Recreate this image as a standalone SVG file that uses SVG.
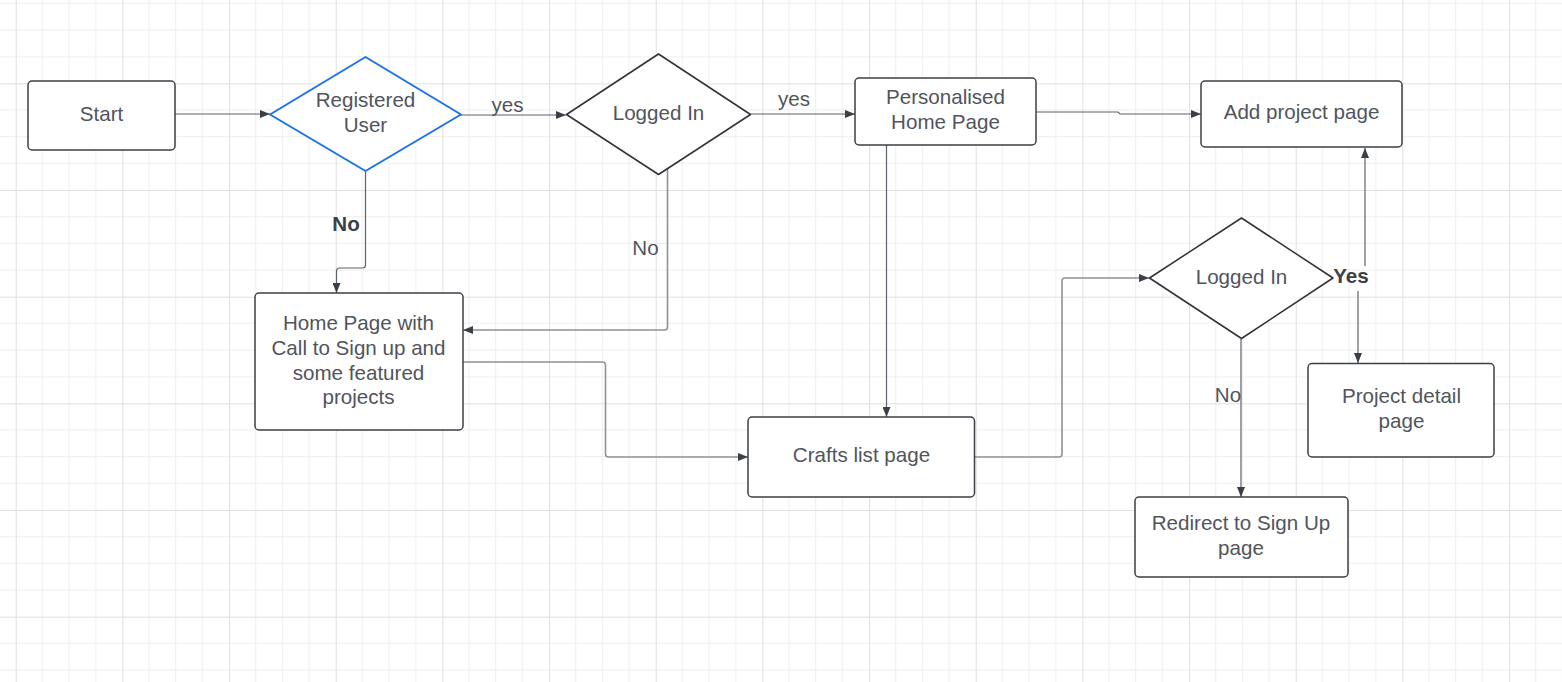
<svg xmlns="http://www.w3.org/2000/svg" width="1562" height="682" viewBox="0 0 1562 682">
<style>
.box{fill:#ffffff;stroke:#3b3f46;stroke-width:1.5}
.dia{fill:#ffffff;stroke:#2f3238;stroke-width:1.5;stroke-linejoin:round}
.dia-sel{fill:#ffffff;stroke:#1a73e8;stroke-width:2;stroke-linejoin:round}
.t{font-family:"Liberation Sans",Arial,sans-serif;font-size:20.6px;fill:#50555d;text-anchor:middle}
.lb{font-family:"Liberation Sans",Arial,sans-serif;font-size:20.6px;fill:#50555d;text-anchor:middle}
.lbb{font-family:"Liberation Sans",Arial,sans-serif;font-size:20.6px;font-weight:bold;fill:#3d4047;text-anchor:middle}
.c{fill:none;stroke:#5d626b;stroke-width:1.2;marker-end:url(#arr)}
.c2{fill:none;stroke:#8e9199;stroke-width:1.6;marker-end:url(#arr)}
</style>
<defs>
<marker id="arr" viewBox="0 0 10 8" refX="10" refY="4" markerWidth="10" markerHeight="8" orient="auto" markerUnits="userSpaceOnUse">
<path d="M0,0 L10,4 L0,8 z" fill="#3b3f46"/>
</marker>
<pattern id="grid" x="15.67" y="-23.33" width="106.667" height="106.667" patternUnits="userSpaceOnUse">
<path d="M26.667,0V106.667M53.333,0V106.667M80,0V106.667M0,26.667H106.667M0,53.333H106.667M0,80H106.667" stroke="#eeeeee" stroke-width="1" fill="none"/>
<path d="M0.5,0V106.667M0,0.5H106.667" stroke="#e0e0e0" stroke-width="1" fill="none"/>
</pattern>
</defs>
<rect x="0" y="0" width="1562" height="682" fill="#ffffff"/>
<rect x="0" y="0" width="1562" height="682" fill="url(#grid)"/>

<g id="connectors">
<path class="c" d="M175,114 H270"/>
<path class="c" d="M461,115 H566"/>
<path class="c" d="M751,114 H855"/>
<path class="c" d="M1036,112 H1118 L1120,114 H1201"/>
<path class="c" d="M886.5,145 V417"/>
<path class="c" d="M365.5,171 V265 Q365.5,268 362.5,268 H339.5 Q336.5,268 336.5,271 V293"/>
<path class="c2" d="M667.5,168 V327 Q667.5,330 664.5,330 H463"/>
<path class="c2" d="M463,362 H602.5 Q605.5,362 605.5,365 V454 Q605.5,457 608.5,457 H748"/>
<path class="c2" d="M975,457 H1059 Q1062,457 1062,454 V281 Q1062,278 1065,278 H1149"/>
<path class="c" d="M1365,266 V148"/>
<path class="c" d="M1358,291 V363"/>
<path class="c" d="M1241,339 V497"/>
</g>

<g id="start">
<rect class="box" x="28" y="81" width="147" height="69" rx="4"/>
<text class="t" x="101.5" y="121">Start</text>
</g>

<g id="registered-user">
<path class="dia-sel" d="M270,114.5 L365.5,57 L461,114.5 L365.5,171 Z"/>
<text class="t" x="365.5" y="107">Registered</text>
<text class="t" x="365.5" y="132">User</text>
</g>

<g id="logged-in-1">
<path class="dia" d="M566.5,114.5 L658.5,54 L750.5,114.5 L658.5,174.5 Z"/>
<text class="t" x="658.5" y="120">Logged In</text>
</g>

<g id="personalised-home">
<rect class="box" x="855" y="78" width="181" height="67" rx="4"/>
<text class="t" x="945.5" y="104">Personalised</text>
<text class="t" x="945.5" y="128.5">Home Page</text>
</g>

<g id="add-project">
<rect class="box" x="1201" y="81" width="201" height="66" rx="4"/>
<text class="t" x="1301.5" y="118.5">Add project page</text>
</g>

<g id="home-page-cta">
<rect class="box" x="255" y="293" width="208" height="137" rx="4"/>
<text class="t" x="358.5" y="330">Home Page with</text>
<text class="t" x="358.5" y="354.5">Call to Sign up and</text>
<text class="t" x="358.5" y="379.5">some featured</text>
<text class="t" x="358.5" y="404">projects</text>
</g>

<g id="crafts-list">
<rect class="box" x="748" y="417" width="226.5" height="80" rx="4"/>
<text class="t" x="861.5" y="461.5">Crafts list page</text>
</g>

<g id="logged-in-2">
<path class="dia" d="M1149.5,278 L1241.5,218 L1333,278 L1241.5,338.5 Z"/>
<text class="t" x="1241.5" y="284">Logged In</text>
</g>

<g id="project-detail">
<rect class="box" x="1308" y="363.5" width="186" height="93.5" rx="4"/>
<text class="t" x="1401.5" y="403">Project detail</text>
<text class="t" x="1401.5" y="427.5">page</text>
</g>

<g id="redirect-signup">
<rect class="box" x="1135" y="497" width="213" height="80" rx="4"/>
<text class="t" x="1241" y="530">Redirect to Sign Up</text>
<text class="t" x="1241" y="555">page</text>
</g>

<g id="labels">
<text class="lb" x="507.5" y="112">yes</text>
<text class="lb" x="794" y="105.5">yes</text>
<text class="lbb" x="346" y="231">No</text>
<text class="lb" x="645.5" y="255">No</text>
<text class="lbb" x="1351" y="282.5">Yes</text>
<text class="lb" x="1228" y="401.5">No</text>
</g>
</svg>
